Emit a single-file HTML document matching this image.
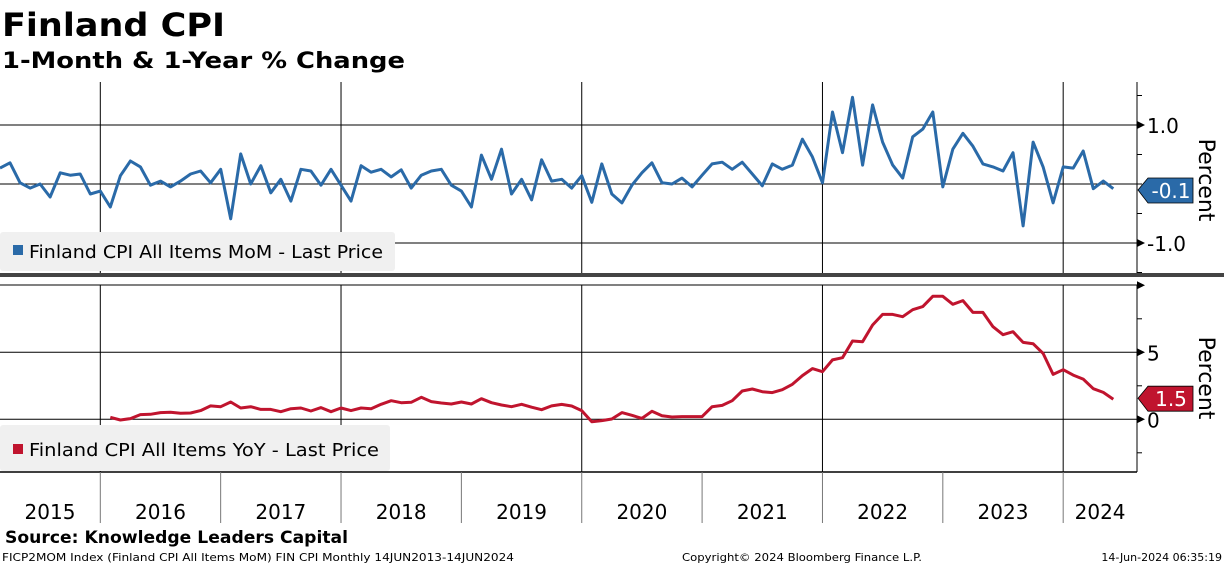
<!DOCTYPE html>
<html><head><meta charset="utf-8"><style>
html,body{margin:0;padding:0;background:#fff;}
svg{display:block;font-family:"DejaVu Sans","Liberation Sans",sans-serif;}
</style></head><body>
<svg id="chart" width="1224" height="566" viewBox="0 0 1224 566" xmlns="http://www.w3.org/2000/svg">
<text x="2" y="36" font-size="32" font-weight="bold" textLength="223" lengthAdjust="spacingAndGlyphs">Finland CPI</text>
<text x="2" y="68" font-size="22" font-weight="bold" textLength="403" lengthAdjust="spacingAndGlyphs">1-Month &amp; 1-Year % Change</text>
<g id="grid"></g>
<g id="series"></g>
<rect x="0" y="273" width="1224" height="4" fill="#444"/>
<rect x="0" y="232" width="395" height="39" rx="3" fill="#f0f0f0"/>
<rect x="13" y="245" width="10" height="10" fill="#2a6aa8"/>
<text x="29" y="258" font-size="18" fill="#000" textLength="354" lengthAdjust="spacingAndGlyphs">Finland CPI All Items MoM - Last Price</text>
<rect x="0" y="425" width="390" height="46" rx="3" fill="#f0f0f0"/>
<rect x="13" y="444" width="10" height="10" fill="#c0142e"/>
<text x="29" y="456" font-size="18" fill="#000" textLength="350" lengthAdjust="spacingAndGlyphs">Finland CPI All Items YoY - Last Price</text>
<text transform="translate(1199,180) rotate(90)" text-anchor="middle" font-size="22">Percent</text>
<text transform="translate(1199,378) rotate(90)" text-anchor="middle" font-size="22">Percent</text>
<g id="xaxis"></g>
<text x="5" y="543" font-size="17" font-weight="bold" textLength="343" lengthAdjust="spacingAndGlyphs">Source: Knowledge Leaders Capital</text>
<text x="2" y="561" font-size="11" textLength="512" lengthAdjust="spacingAndGlyphs">FICP2MOM Index (Finland CPI All Items MoM) FIN CPI  Monthly 14JUN2013-14JUN2024</text>
<text x="682" y="561" font-size="11" textLength="240" lengthAdjust="spacingAndGlyphs">Copyright© 2024 Bloomberg Finance L.P.</text>
<text x="1222" y="561" font-size="11" text-anchor="end">14-Jun-2024 06:35:19</text>
</svg>
<script>
const years = ["2015","2016","2017","2018","2019","2020","2021","2022","2023","2024"];
const momTicks = [1.0, -1.0];
const momTickLabels = ["1.0","-1.0"];
const yoyTicks = [5, 0];
const yoyTickLabels = ["5","0"];
const momValues = [.27,.36,.02,-.07,0,-.22,.19,.15,.17,-.17,-.12,-.39,.14,.39,.29,-.02,.05,-.05,.05,.17,.22,.02,.25,-.59,.51,0,.31,-.15,.08,-.29,.25,.22,-.02,.25,-.02,-.29,.31,.2,.25,.12,.24,-.07,.15,
.22,.25,-.02,-.12,-.39,.49,.08,.59,-.17,.08,-.27,.41,.05,.08,-.07,.14,-.31,.34,-.17,-.32,-.02,.19,.36,.02,0,.1,-.05,.15,.34,.37,.25,.37,.17,-.03,.34,.25,.32,.76,.46,.02,
1.22,.53,1.47,.32,1.34,.71,.32,.1,.8,.93,1.22,-.05,.59,.86,.64,.34,.29,.22,.53,-.71,.71,.29,-.32,.29,.27,.56,-.08,.05,-.08];
const yoyValues = [null,null,null,null,null,null,null,null,null,null,null,
.15,-.05,.05,.35,.37,.5,.52,.45,.47,.65,1.0,.94,1.29,.84,.94,.74,.74,.57,.79,.84,.62,.87,.57,.84,.65,.84,.79,1.12,1.39,1.24,1.27,1.64,1.32,1.22,1.14,1.29,1.14,1.54,1.24,1.07,.94,1.12,.9,.72,1.0,1.11,.99,.65,-.18,-.1,.02,.5,.3,
.07,.6,.26,.17,.2,.2,.2,.94,1.04,1.39,2.11,2.26,2.06,1.99,2.21,2.61,3.26,3.78,3.55,4.43,4.6,5.84,5.79,7.04,7.83,7.83,7.66,8.18,8.41,9.18,9.18,8.58,8.86,7.98,7.98,6.91,6.31,6.54,5.74,5.64,4.92,3.35,3.7,3.3,3.0,2.28,2.01,1.5];

const NS="http://www.w3.org/2000/svg";
const AX_R=1137, MW=10.03;
const xOf=i=>i*MW;
const yMom=v=>184-v*59;
const yYoy=v=>419.3-v*13.4;
function mk(tag,attrs,parent){const e=document.createElementNS(NS,tag);for(const k in attrs)e.setAttribute(k,attrs[k]);parent.appendChild(e);return e;}
const grid=document.getElementById('grid'), ser=document.getElementById('series'), xa=document.getElementById('xaxis');

mk('line',{x1:AX_R,y1:82,x2:AX_R,y2:273,stroke:'#000','stroke-width':1},grid);
mk('line',{x1:AX_R,y1:285,x2:AX_R,y2:472,stroke:'#000','stroke-width':1},grid);
mk('line',{x1:0,y1:472,x2:AX_R,y2:472,stroke:'#000','stroke-width':1.5},grid);
mk('line',{x1:0,y1:285,x2:AX_R,y2:285,stroke:'#000','stroke-width':1},grid);
for(let k=1;k<years.length;k++){
  const x=xOf(10+(k-1)*12);
  if(k%2===1){
    const l1=mk('line',{x1:x,y1:82,x2:x,y2:273,stroke:'#000','stroke-width':1},grid);
    
    
    mk('line',{x1:x,y1:285,x2:x,y2:472,stroke:'#000','stroke-width':1},grid);
  }
  const s=mk('line',{x1:x,y1:472,x2:x,y2:523,stroke:'#777','stroke-width':1},xa);
  
  
}
for(let k=0;k<years.length;k++){
  const x0=xOf(10+(k-1)*12), x1=Math.min(xOf(10+k*12),AX_R);
  const t=mk('text',{x:Math.max((Math.max(x0,0)+x1)/2,50),y:519,'font-size':20,'text-anchor':'middle'},xa);
  if(k===0)t.setAttribute('x',50);
  t.textContent=years[k];
  
  
}
momTicks.forEach((v,i)=>{
  const y=yMom(v);
  mk('line',{x1:0,y1:y,x2:AX_R,y2:y,stroke:'#000','stroke-width':1},grid);
  mk('path',{d:`M${AX_R},${y-4}L${AX_R+8},${y}L${AX_R},${y+4}Z`,fill:'#000'},grid);
  const t=mk('text',{x:AX_R+10,y:y+8,'font-size':20},grid);
  t.textContent=momTickLabels[i];
  
  
});
mk('line',{x1:0,y1:yMom(0),x2:AX_R,y2:yMom(0),stroke:'#000','stroke-width':1},grid);
[1.5,0.5,0,-0.5,-1.5].forEach(v=>mk('line',{x1:AX_R,y1:yMom(v),x2:AX_R+5,y2:yMom(v),stroke:'#000'},grid));
yoyTicks.forEach((v,i)=>{
  const y=yYoy(v);
  mk('line',{x1:0,y1:y,x2:AX_R,y2:y,stroke:'#000','stroke-width':1},grid);
  mk('path',{d:`M${AX_R},${y-4}L${AX_R+8},${y}L${AX_R},${y+4}Z`,fill:'#000'},grid);
  const t=mk('text',{x:AX_R+10,y:y+8,'font-size':20},grid);
  t.textContent=yoyTickLabels[i];
  
  
});
[10,7.5,2.5,-2.5].forEach(v=>mk('line',{x1:AX_R,y1:yYoy(v),x2:AX_R+5,y2:yYoy(v),stroke:'#000'},grid));
mk('path',{d:`M${AX_R},${yYoy(10)-4}L${AX_R+8},${yYoy(10)}L${AX_R},${yYoy(10)+4}Z`,fill:'#000'},grid);

function linePath(vals,yf){let d='';vals.forEach((v,i)=>{if(v===null)return;d+=(d?'L':'M')+xOf(i).toFixed(1)+','+yf(v).toFixed(1);});return d;}
const pm=mk('path',{d:linePath(momValues,yMom),fill:'none',stroke:'#2a6aa8','stroke-width':3,'stroke-linejoin':'round'},ser);


const py=mk('path',{d:linePath(yoyValues,yYoy),fill:'none',stroke:'#c0142e','stroke-width':3,'stroke-linejoin':'round'},ser);



function tag(v,y,color,name){
  const g=mk('g',{},ser);
  
  
  mk('path',{d:`M${AX_R+1},${y}L${AX_R+11},${y-12}L${AX_R+56},${y-12}L${AX_R+56},${y+13}L${AX_R+11},${y+13}Z`,fill:color,stroke:'#000','stroke-width':0.8},g);
  const t=mk('text',{x:AX_R+34,y:y+8,'font-size':20,fill:'#fff','text-anchor':'middle'},g);
  t.textContent=v.toFixed(1);
}
const lm=momValues[momValues.length-1], ly=yoyValues[yoyValues.length-1];
tag(lm,yMom(0)+6,'#2a6aa8','mom-last-value-tag');
tag(ly,yYoy(ly)-1,'#c0142e','yoy-last-value-tag');
</script>
</body></html>
